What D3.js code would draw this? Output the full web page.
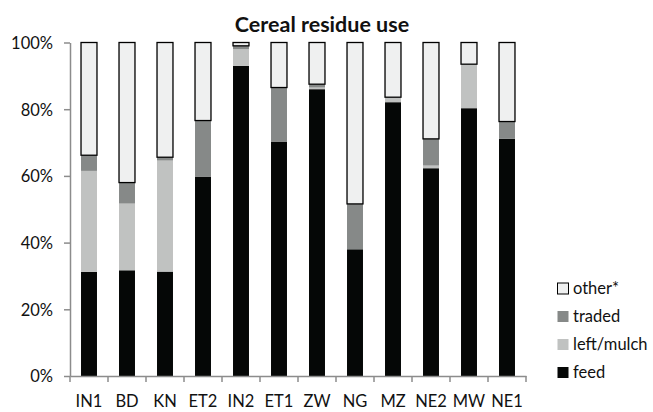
<!DOCTYPE html>
<html><head><meta charset="utf-8">
<script src="https://cdn.jsdelivr.net/npm/d3@7"></script>
<style>body{margin:0;background:#fff}svg{display:block}text{font-family:Lato,"Open Sans",sans-serif}</style>
</head><body><svg id="c" width="653" height="412"></svg>
<script>
const categories = ["IN1","BD","KN","ET2","IN2","ET1","ZW","NG","MZ","NE2","MW","NE1"];
const feed       = [31.2, 31.7, 31.3, 59.8, 93.0, 70.3, 86.0, 38.0, 82.1, 62.3, 80.3, 71.1];
const leftMulch  = [30.3, 20.0, 33.3, 0.0, 5.0, 0.0, 0.5, 0.0, 1.5, 0.8, 13.2, 0.0];
const traded     = [4.7, 6.3, 1.0, 16.8, 1.0, 16.2, 1.0, 13.6, 0.0, 8.0, 0.0, 5.2];
const seriesNames = ["feed","left/mulch","traded","other*"];
const yTicks = [0,20,40,60,80,100];
const other = categories.map((c,i)=>100-feed[i]-leftMulch[i]-traded[i]);
const colors = {"feed":"#050706","left/mulch":"#c0c2c1","traded":"#868988","other*":"#eff0f0"};

const svg = d3.select("#c");
const x = d3.scaleBand().domain(categories).range([70,526]).paddingInner(0.58).paddingOuter(0.29);
const y = d3.scaleLinear().domain([0,100]).range([376,42.5]);

const rows = categories.map((c,i)=>({cat:c,"feed":feed[i],"left/mulch":leftMulch[i],"traded":traded[i],"other*":other[i]}));
const stack = d3.stack().keys(seriesNames)(rows);

stack.forEach(s=>{
  svg.append("g").selectAll("rect").data(s).join("rect")
    .attr("x",d=>x(d.data.cat))
    .attr("width",x.bandwidth())
    .attr("y",d=>y(d[1]))
    .attr("height",d=>Math.max(0,y(d[0])-y(d[1])))
    .attr("fill",colors[s.key])
    .attr("stroke",s.key==="other*"?"#000":"none")
    .attr("stroke-width",1.3);
});

const fs = 16.5;
const axisColor="#8c8c8c";
const ya = svg.append("g").attr("transform","translate(70,0)")
  .call(d3.axisLeft(y).tickValues(yTicks).tickFormat(d=>d+"%").tickSize(6).tickSizeOuter(0));
ya.select(".domain").attr("stroke",axisColor).attr("stroke-width",1.5);
ya.selectAll(".tick line").attr("stroke",axisColor).attr("stroke-width",1.5);
ya.selectAll(".tick text").attr("font-size",fs).attr("fill","#111").attr("x",-17).attr("dy","0.36em").attr("font-family","Lato,'Open Sans',sans-serif");

const xa = svg.append("g").attr("transform","translate(0,376)")
  .call(d3.axisBottom(x).tickSize(0).tickSizeOuter(0));
xa.select(".domain").attr("stroke",axisColor).attr("stroke-width",1.5);
xa.selectAll(".tick text").attr("font-size",fs).attr("fill","#111").attr("dy",0).attr("y",31).attr("font-family","Lato,'Open Sans',sans-serif");
const step = x.step();
const bounds = d3.range(categories.length+1).map(i=>70+i*step);
svg.append("g").selectAll("line").data(bounds).join("line")
  .attr("x1",d=>d).attr("x2",d=>d).attr("y1",376).attr("y2",382)
  .attr("stroke",axisColor).attr("stroke-width",1.5);

svg.append("text").attr("x",322).attr("y",31.5).attr("text-anchor","middle")
  .attr("font-size",21.5).attr("font-weight","bold").attr("fill","#111").text("Cereal residue use");

const legOrder = ["other*","traded","left/mulch","feed"];
const lg = svg.append("g").selectAll("g").data(legOrder).join("g")
  .attr("transform",(d,i)=>`translate(557,${294+i*28})`);
lg.append("rect").attr("x",0.5).attr("y",-11).attr("width",11).attr("height",11)
  .attr("fill",d=>colors[d]).attr("stroke",d=>d==="other*"?"#000":"none").attr("stroke-width",1);
lg.append("text").attr("x",16).attr("y",0).attr("font-size",fs).attr("fill","#111").text(d=>d);
</script></body></html>
